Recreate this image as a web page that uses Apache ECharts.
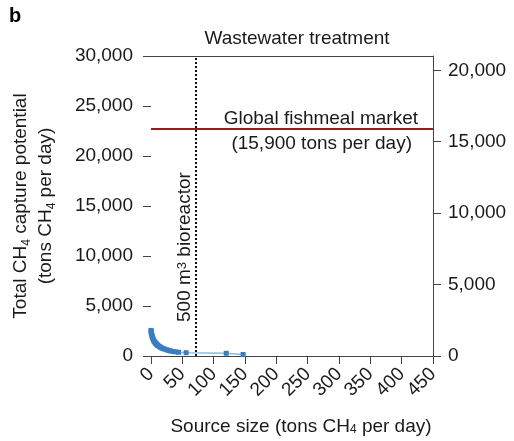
<!DOCTYPE html>
<html>
<head>
<meta charset="utf-8">
<script src="https://cdn.jsdelivr.net/npm/echarts@6/dist/echarts.min.js"></script>
<style>html,body{margin:0;padding:0;background:#fff}#c{width:514px;height:441px}</style>
</head>
<body>
<div id="c"></div>
<script>
// Source size (tons CH4 per day)
var sourceSize = [0.05,0.2,0.4,0.7,1,1.5,2,2.5,3,4,5,6,7,8,9,10,11,13,15,17,19,22,25,28,31,35,39,44,56,120,147];
// Total CH4 capture potential (tons CH4 per day)
var capture = [2560,2470,2380,2280,2180,2040,1930,1830,1740,1600,1480,1390,1310,1240,1170,1110,1050,960,880,810,750,680,620,560,510,460,415,375,330,270,150];
var bioreactorSize = 71;
var fishmealMarket = 15900;
var leftTicks = [0,5000,10000,15000,20000,25000,30000];
var rightTicks = [0,5000,10000,15000,20000];
var xTicks = [0,50,100,150,200,250,300,350,400,450];

var points = sourceSize.map(function(s,i){return [s, capture[i]];});
var FONT = '"Liberation Sans", Arial, Helvetica, sans-serif';
var txt = '#1a1a1a';
var axisCol = '#444';

var chart = echarts.init(document.getElementById('c'), null, {renderer:'canvas'});
chart.setOption({
  animation:false,
  backgroundColor:'#fff',
  textStyle:{fontFamily:FONT},
  title:{text:'Wastewater treatment', left:292, textAlign:'center', top:24,
    textStyle:{fontSize:19, fontWeight:'normal', color:txt, fontFamily:FONT}},
  graphic:[{type:'text', left:9, top:6, style:{text:'b', font:'bold 20px ' + FONT, fill:'#000'}}],
  grid:{left:151, right:81, top:56, bottom:85, containLabel:false},
  xAxis:[{
    type:'value', min:0, max:450, interval:50, position:'bottom',
    axisLine:{show:true, onZero:false, lineStyle:{color:axisCol, width:1}},
    axisTick:{show:true, inside:false, length:8, lineStyle:{color:axisCol}, customValues:xTicks},
    axisLabel:{rotate:45, fontSize:19, color:txt, margin:15, fontFamily:FONT, customValues:xTicks},
    splitLine:{show:false},
    name:'Source size (tons CH{sub|4} per day)', nameLocation:'middle', nameGap:61,
    nameTextStyle:{fontSize:19, color:txt, fontFamily:FONT, padding:[0,0,0,18],
      rich:{sub:{fontSize:12, verticalAlign:'bottom', lineHeight:12, color:txt, fontFamily:FONT}}}
  },{
    type:'value', min:0, max:450, position:'top',
    axisLine:{show:true, onZero:false, lineStyle:{color:axisCol, width:1}},
    axisTick:{show:false}, axisLabel:{show:false}, splitLine:{show:false}
  }],
  yAxis:[{
    type:'value', min:0, max:30000, interval:5000, position:'left',
    axisLine:{show:false, onZero:false},
    axisTick:{show:true, inside:false, length:8, lineStyle:{color:axisCol}, customValues:leftTicks},
    axisLabel:{fontSize:19, color:txt, margin:18, fontFamily:FONT, customValues:leftTicks},
    splitLine:{show:false},
    name:'Total CH{sub|4} capture potential\n(tons CH{sub|4} per day)', nameLocation:'middle', nameGap:93,
    nameTextStyle:{fontSize:19, color:txt, lineHeight:25, align:'center', fontFamily:FONT,
      rich:{sub:{fontSize:12, verticalAlign:'bottom', lineHeight:12, color:txt, fontFamily:FONT}}}
  },{
    type:'value', min:0, max:21000, position:'right',
    axisLine:{show:true, onZero:false, lineStyle:{color:axisCol, width:1}},
    axisTick:{show:true, inside:false, length:8, lineStyle:{color:axisCol}, customValues:rightTicks},
    axisLabel:{fontSize:19, color:txt, margin:15, fontFamily:FONT, customValues:rightTicks},
    splitLine:{show:false}
  }],
  series:[{
    type:'line', xAxisIndex:0, yAxisIndex:0, data:points,
    symbol:'rect', symbolSize:5, showSymbol:true,
    itemStyle:{color:'#3a7dc1'},
    lineStyle:{color:'#8cbbe4', width:1.5},
    z:3,
    markLine:{
      silent:true, symbol:'none', animation:false,
      lineStyle:{type:'dotted', color:'#111', width:2},
      label:{show:true, position:'insideStartTop', distance:[34,1],
        formatter:'500 m{sup|3} bioreactor', fontSize:19, color:txt, fontFamily:FONT,
        rich:{sup:{fontSize:13, verticalAlign:'top', lineHeight:13, color:txt, fontFamily:FONT}}},
      data:[{xAxis:bioreactorSize}]
    }
  },{
    type:'line', xAxisIndex:0, yAxisIndex:1, data:[], symbol:'none',
    markLine:{
      silent:true, symbol:'none', animation:false,
      lineStyle:{type:'solid', color:'#951b1e', width:2},
      data:[
        {yAxis:fishmealMarket, label:{show:true, position:'insideEndTop', distance:[15,1],
          formatter:'Global fishmeal market', fontSize:19, color:txt, fontFamily:FONT}},
        {yAxis:fishmealMarket, label:{show:true, position:'insideEndBottom', distance:[21,5],
          formatter:'(15,900 tons per day)', fontSize:19, color:txt, fontFamily:FONT}}
      ]
    }
  }]
});
</script>
</body>
</html>
